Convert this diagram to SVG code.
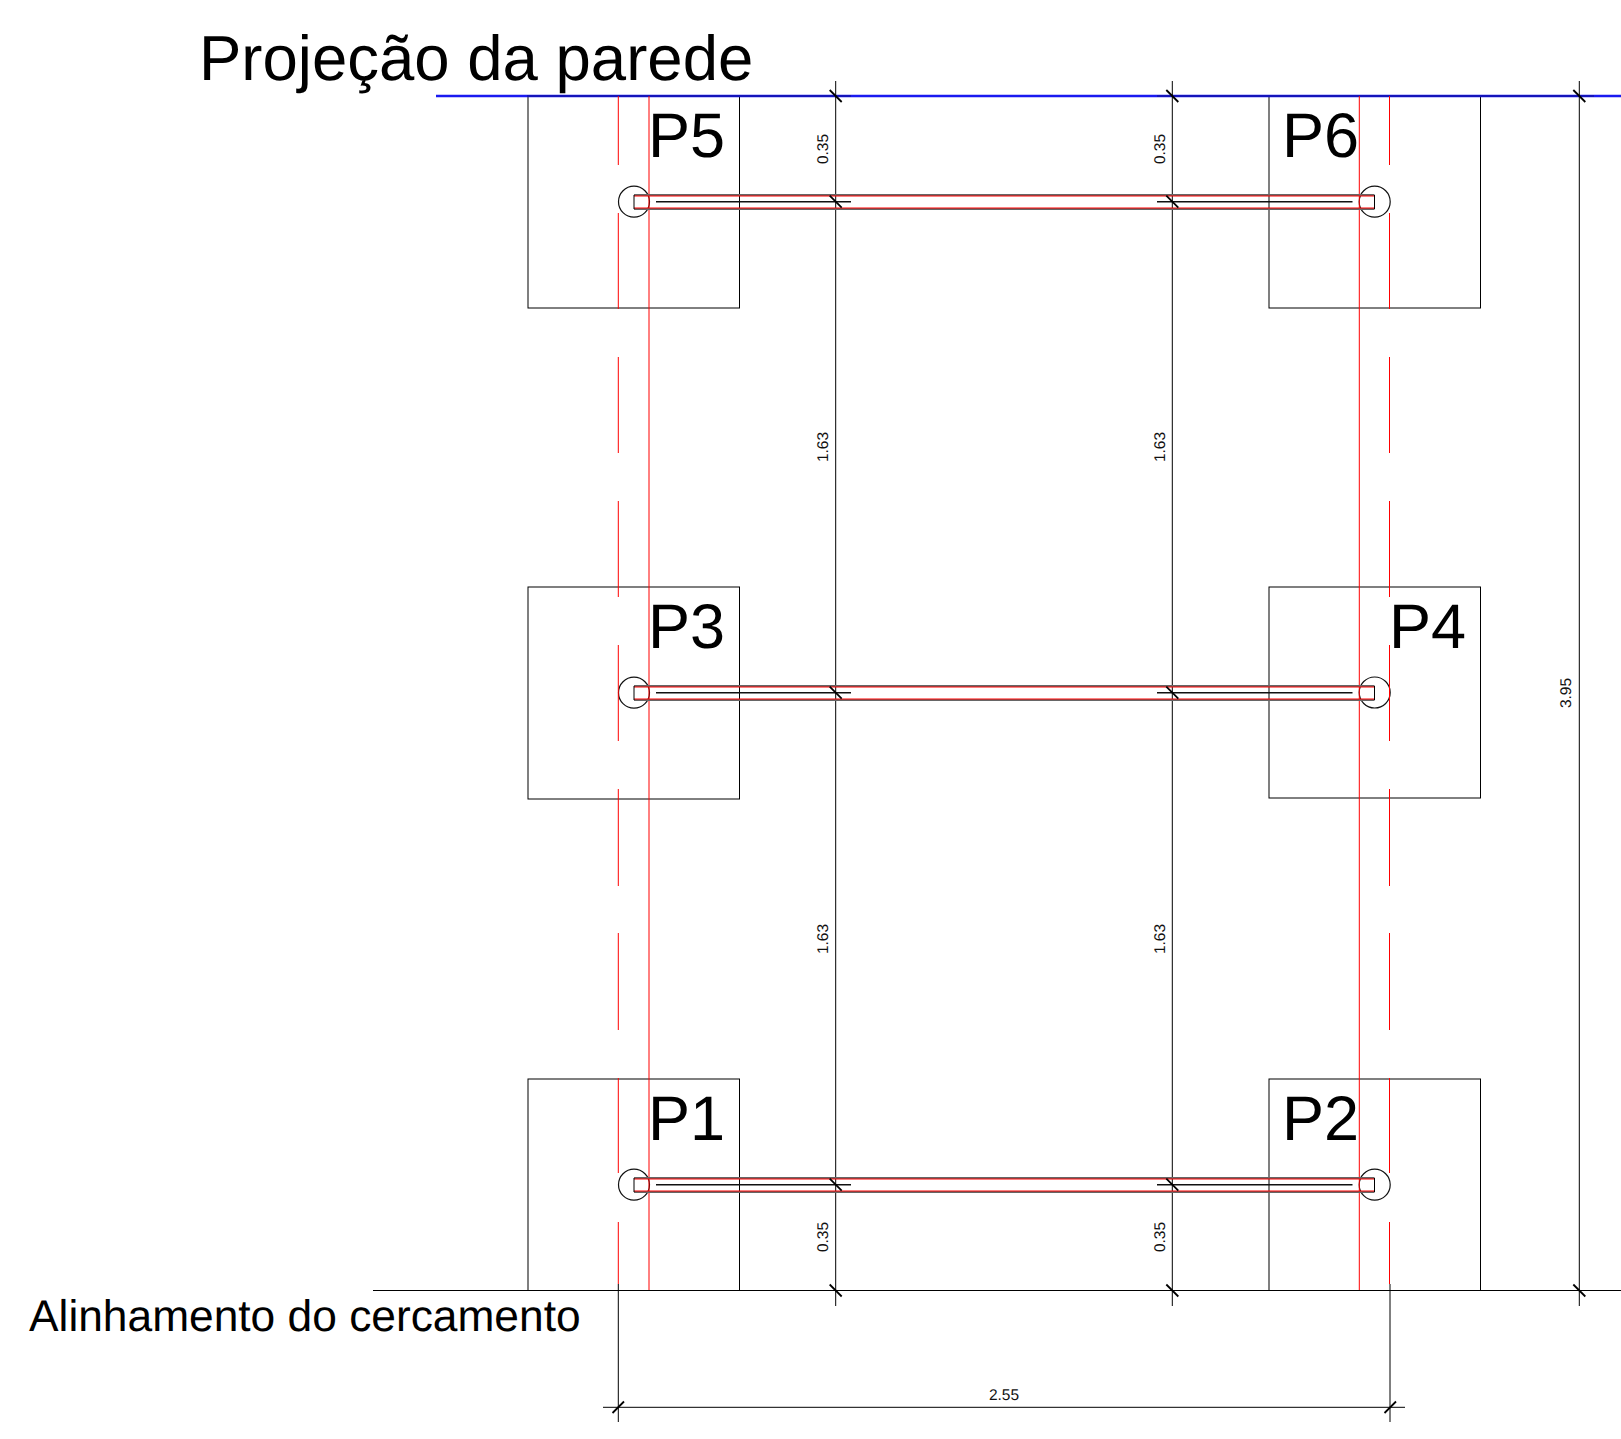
<svg xmlns="http://www.w3.org/2000/svg" width="1621" height="1439" viewBox="0 0 1621 1439">
<style>
.k{fill:none;stroke:#000;stroke-width:1}
.g{fill:none;stroke:#111;stroke-width:1.2}
.r{fill:none;stroke:#f00;stroke-width:1}
.b{fill:none;stroke:#1a1af0;stroke-width:2.6}
.t{stroke:#000;stroke-width:1.8;fill:none}
.in{stroke:#111;stroke-width:1.4;fill:none}
.w{fill:none;stroke:#666;stroke-width:1.8}
text{font-family:"Liberation Sans",Arial,sans-serif;fill:#000;text-rendering:geometricPrecision}
.p{font-size:63px}
.d{font-size:15.5px;fill:#111;text-anchor:middle}
</style>
<defs>
<g id="tick"><line class="t" x1="-6" y1="-6" x2="6" y2="6"/></g>
</defs>
<rect width="1621" height="1439" fill="#fff"/>
<g id="title"><text x="199" y="79.5" font-size="63.5">Projeção da parede</text></g>
<g id="alinhamento"><text x="29" y="1331" font-size="44.3">Alinhamento do cercamento</text></g>
<g id="P5"><rect class="k" x="528" y="96" width="211.5" height="212"/><text class="p" x="648" y="157">P5</text><circle class="g" cx="634" cy="201.7" r="15.5"/></g>
<g id="P6"><rect class="k" x="1269" y="96" width="211.5" height="212"/><text class="p" x="1282" y="157">P6</text><circle class="g" cx="1374.7" cy="201.7" r="15.5"/></g>
<g id="P3"><rect class="k" x="528" y="587" width="211.5" height="212"/><text class="p" x="648" y="648">P3</text><circle class="g" cx="634" cy="692.7" r="15.5"/></g>
<g id="P4"><rect class="k" x="1269" y="587" width="211.5" height="211"/><text class="p" x="1389" y="647.5">P4</text><circle class="g" cx="1374.7" cy="692.5" r="15.5"/></g>
<g id="P1"><rect class="k" x="528" y="1079" width="211.5" height="211.5"/><text class="p" x="648" y="1139.5">P1</text><circle class="g" cx="634" cy="1184.7" r="15.5"/></g>
<g id="P2"><rect class="k" x="1269" y="1079" width="211.5" height="211.5"/><text class="p" x="1282" y="1139.5">P2</text><circle class="g" cx="1374.7" cy="1184.7" r="15.5"/></g>
<g id="connectors">
<path class="b" d="M436 96H1621"/>
<path class="k" d="M373 1290.5H1621M835.7 81V1306M1172.3 81V1306M1579.3 81V1306M618.3 1284V1422M1390 1284V1422M603 1407.3H1405"/>
<path class="k" stroke-opacity=".45" d="M527 96H851M1157 96H1594"/>
<path class="r" d="M649 96V1290M1359.3 96V1290"/>
<path class="r" d="M618.3 96V165M618.3 213V309M618.3 357V453M618.3 501V597M618.3 645V741M618.3 789V886M618.3 933V1030M618.3 1078V1173M618.3 1222V1284"/>
<path class="r" d="M1389.5 96V165M1389.5 213V309M1389.5 357V453M1389.5 501V597M1389.5 645V741M1389.5 789V886M1389.5 933V1030M1389.5 1078V1173M1389.5 1222V1284"/>
<g id="beams">
<path class="w" d="M634 195H1374.5M634 209H1374.5M634 686H1374.5M634 700H1374.5M634 1178H1374.5M634 1192H1374.5"/>
<path class="r" d="M634 196H1374.5M634 208H1374.5M634 687H1374.5M634 699H1374.5M634 1179H1374.5M634 1191H1374.5"/>
<path class="k" d="M634 195V209M1374.5 195V209M634 686V700M1374.5 686V700M634 1178V1192M1374.5 1178V1192"/>
<path class="in" d="M656 201.7H851M1157 201.7H1352.5M656 692.7H851M1157 692.7H1352.5M656 1184.7H851M1157 1184.7H1352.5"/>
</g>
<g id="ticks">
<use href="#tick" x="835.7" y="96"/><use href="#tick" x="1172.3" y="96"/><use href="#tick" x="1579.3" y="96"/>
<use href="#tick" x="835.7" y="201.7"/><use href="#tick" x="1172.3" y="201.7"/>
<use href="#tick" x="835.7" y="692.7"/><use href="#tick" x="1172.3" y="692.7"/>
<use href="#tick" x="835.7" y="1184.7"/><use href="#tick" x="1172.3" y="1184.7"/>
<use href="#tick" x="835.7" y="1290.5"/><use href="#tick" x="1172.3" y="1290.5"/><use href="#tick" x="1579.3" y="1290.5"/>
<line class="t" x1="612.5" y1="1413" x2="624" y2="1401.5"/><line class="t" x1="1384.5" y1="1413" x2="1396" y2="1401.5"/>
</g>
</g>
<g id="dimensions">
<text class="d" transform="translate(828 149) rotate(-90)">0.35</text>
<text class="d" transform="translate(1165 149) rotate(-90)">0.35</text>
<text class="d" transform="translate(828 447) rotate(-90)">1.63</text>
<text class="d" transform="translate(1165 447) rotate(-90)">1.63</text>
<text class="d" transform="translate(828 939) rotate(-90)">1.63</text>
<text class="d" transform="translate(1165 939) rotate(-90)">1.63</text>
<text class="d" transform="translate(828 1237) rotate(-90)">0.35</text>
<text class="d" transform="translate(1165 1237) rotate(-90)">0.35</text>
<text class="d" transform="translate(1571 693) rotate(-90)">3.95</text>
<text class="d" x="1004" y="1400">2.55</text>
</g>
</svg>
